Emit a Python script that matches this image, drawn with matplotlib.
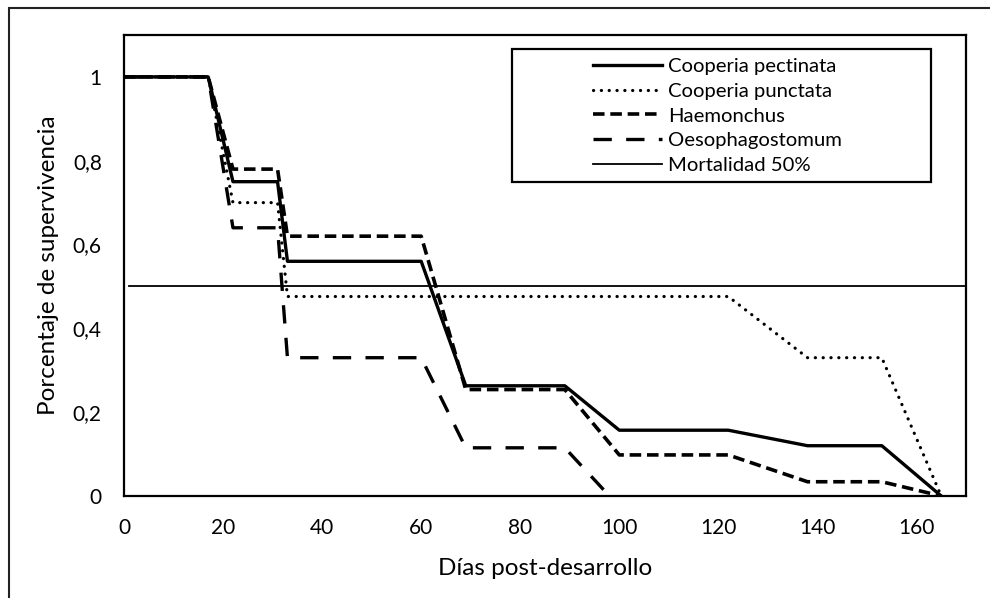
"""Curvas de supervivencia de larvas por género de nematodo."""

import matplotlib

matplotlib.use("Agg")
import matplotlib.pyplot as plt
from matplotlib.patches import Rectangle
from matplotlib.ticker import FuncFormatter, MultipleLocator

plt.rcParams["font.family"] = ["Lato", "DejaVu Sans"]

# Datos (días post-desarrollo / proporción sobreviviente)
dias = [0, 17, 22, 31, 33, 60, 69, 89, 100, 122, 138, 153, 165]
cooperia_pectinata = [1, 1, 0.75, 0.75, 0.56, 0.56, 0.263, 0.263, 0.157, 0.157, 0.12, 0.12, 0]
cooperia_punctata = [1, 1, 0.70, 0.70, 0.476, 0.476, 0.476, 0.476, 0.476, 0.476, 0.33, 0.33, 0]
haemonchus = [1, 1, 0.78, 0.78, 0.62, 0.62, 0.254, 0.254, 0.098, 0.098, 0.034, 0.034, 0]

dias_oeso = [0, 17, 22, 31, 33, 60, 69, 89, 98]
oesophagostomum = [1, 1, 0.64, 0.64, 0.33, 0.33, 0.115, 0.115, 0]

dias_mortalidad = [1, 170]
mortalidad_50 = [0.5, 0.5]

W, H = 990, 598
fig = plt.figure(figsize=(W / 100, H / 100), dpi=100)
ax = fig.add_axes([124 / W, 1 - 496 / H, (966 - 124) / W, (496 - 35) / H])

ax.plot(dias, cooperia_pectinata, color="black", lw=2.4, label="Cooperia pectinata")
ax.plot(dias, cooperia_punctata, color="black", lw=2.3, linestyle=(0, (0.05, 2.4)),
        dash_capstyle="round", label="Cooperia punctata")
ax.plot(dias, haemonchus, color="black", lw=2.6, linestyle=(0, (3.2, 1.6)),
        label="Haemonchus")
ax.plot(dias_oeso, oesophagostomum, color="black", lw=2.4, linestyle=(0, (5.5, 4.3)),
        label="Oesophagostomum")
ax.plot(dias_mortalidad, mortalidad_50, color="black", lw=1.3, label="Mortalidad 50%")

ax.set_xlim(0, 170)
ax.set_ylim(0, 1.1)
ax.yaxis.set_major_locator(MultipleLocator(0.2))
ax.set_xticks(range(0, 161, 20))
ax.yaxis.set_major_formatter(FuncFormatter(lambda v, _: f"{v:g}".replace(".", ",")))
ax.tick_params(length=0, labelsize=15)
ax.tick_params(axis="x", pad=16)
ax.tick_params(axis="y", pad=16)
for spine in ax.spines.values():
    spine.set_linewidth(1.6)

ax.set_xlabel("Días post-desarrollo", fontsize=17.5, labelpad=14)
ax.set_ylabel("Porcentaje de supervivencia", fontsize=17.5, labelpad=10)

leg = ax.legend(loc="upper left", bbox_to_anchor=(593 / W, 1 - 58 / H),
                bbox_transform=fig.transFigure, frameon=False, fontsize=14.6,
                handlelength=3.4, handletextpad=0.3, labelspacing=0.37,
                borderpad=0, borderaxespad=0)
fig.add_artist(Rectangle((512 / W, 1 - 182 / H), (931 - 512) / W, (182 - 49) / H,
                         transform=fig.transFigure, fill=False, lw=1.6, ec="black"))

# Marco exterior del gráfico (cortado a derecha y abajo)
fig.add_artist(Rectangle((9 / W, -0.1), 1.2, 1.1 - 8 / H,
                         transform=fig.transFigure, fill=False, lw=1.5, ec="#222222"))

fig.savefig("out.png", dpi=100)
